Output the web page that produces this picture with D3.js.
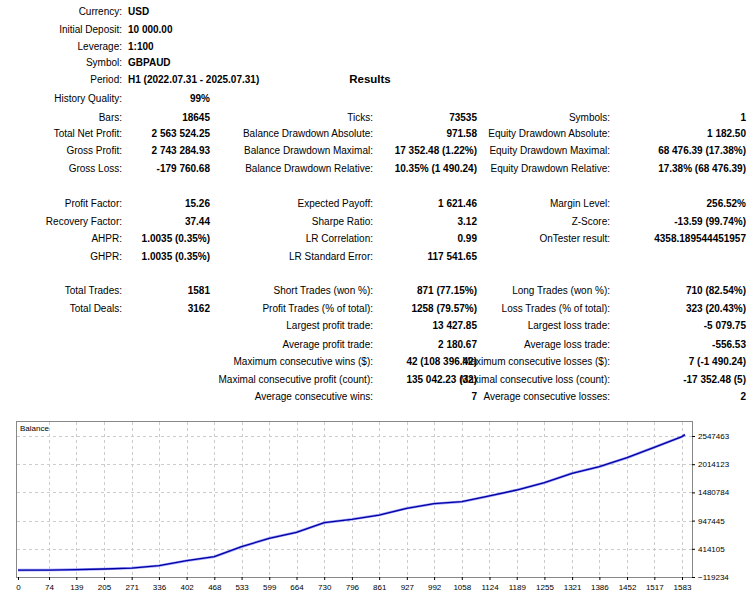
<!DOCTYPE html>
<html lang="en">
<head>
<meta charset="UTF-8">
<title>Strategy Tester Report</title>
<script src="https://d3js.org/d3.v7.min.js"></script>
<style>
  body { margin: 0; background: #fff; }
  text { font-family: "Liberation Sans", Arial, sans-serif; font-size: 10px; fill: #000; }
  .b { font-weight: bold; }
</style>
</head>
<body>
<svg width="756" height="600"></svg>
<script>
// header rows: label, value
var headLabels = ["Currency:", "Initial Deposit:", "Leverage:", "Symbol:", "Period:"];
var headValues = ["USD", "10 000.00", "1:100", "GBPAUD", "H1 (2022.07.31 - 2025.07.31)"];
var headY = [11, 29, 46, 62, 79];

// table rows: [label1, value1, label2, value2, label3, value3]
var rowY = [98, 117, 133, 150, 168, 203, 221, 238, 256, 290, 308, 325, 344, 361, 379, 396];
var rows = [
  ["History Quality:", "99%", "", "", "", ""],
  ["Bars:", "18645", "Ticks:", "73535", "Symbols:", "1"],
  ["Total Net Profit:", "2 563 524.25", "Balance Drawdown Absolute:", "971.58", "Equity Drawdown Absolute:", "1 182.50"],
  ["Gross Profit:", "2 743 284.93", "Balance Drawdown Maximal:", "17 352.48 (1.22%)", "Equity Drawdown Maximal:", "68 476.39 (17.38%)"],
  ["Gross Loss:", "-179 760.68", "Balance Drawdown Relative:", "10.35% (1 490.24)", "Equity Drawdown Relative:", "17.38% (68 476.39)"],
  ["Profit Factor:", "15.26", "Expected Payoff:", "1 621.46", "Margin Level:", "256.52%"],
  ["Recovery Factor:", "37.44", "Sharpe Ratio:", "3.12", "Z-Score:", "-13.59 (99.74%)"],
  ["AHPR:", "1.0035 (0.35%)", "LR Correlation:", "0.99", "OnTester result:", "4358.189544451957"],
  ["GHPR:", "1.0035 (0.35%)", "LR Standard Error:", "117 541.65", "", ""],
  ["Total Trades:", "1581", "Short Trades (won %):", "871 (77.15%)", "Long Trades (won %):", "710 (82.54%)"],
  ["Total Deals:", "3162", "Profit Trades (% of total):", "1258 (79.57%)", "Loss Trades (% of total):", "323 (20.43%)"],
  ["", "", "Largest profit trade:", "13 427.85", "Largest loss trade:", "-5 079.75"],
  ["", "", "Average profit trade:", "2 180.67", "Average loss trade:", "-556.53"],
  ["", "", "Maximum consecutive wins ($):", "42 (108 396.42)", "Maximum consecutive losses ($):", "7 (-1 490.24)"],
  ["", "", "Maximal consecutive profit (count):", "135 042.23 (32)", "Maximal consecutive loss (count):", "-17 352.48 (5)"],
  ["", "", "Average consecutive wins:", "7", "Average consecutive losses:", "2"]
];

// balance curve: trade number, balance
var trades = [0, 74, 139, 205, 271, 336, 402, 468, 533, 599, 664, 730, 796, 861, 927, 992, 1058, 1124, 1189, 1255, 1321, 1386, 1452, 1517, 1583, 1590];
var balance = [10000, 12000, 20000, 32000, 50000, 94500, 189000, 265000, 454000, 613000, 726000, 908000, 972000, 1053000, 1180000, 1267000, 1305000, 1413000, 1526000, 1664000, 1842000, 1967000, 2137000, 2334000, 2535000, 2573534];
var xTicks = [0, 74, 139, 205, 271, 336, 402, 468, 533, 599, 664, 730, 796, 861, 927, 992, 1058, 1124, 1189, 1255, 1321, 1386, 1452, 1517, 1583];
var yTicks = [-119234, 414105, 947445, 1480784, 2014123, 2547463];

var svg = d3.select("svg");

headLabels.forEach(function(l, i) {
  svg.append("text").attr("x", 122).attr("y", headY[i] + 4).attr("text-anchor", "end").text(l);
  svg.append("text").attr("class", "b").attr("x", 128).attr("y", headY[i] + 4).text(headValues[i]);
});
svg.append("text").attr("class", "b").attr("x", 370).attr("y", 83)
  .attr("text-anchor", "middle").style("font-size", "11.5px").text("Results");

var colX = [122, 210, 373, 477, 610, 746];
rows.forEach(function(r, i) {
  r.forEach(function(t, j) {
    if (!t) return;
    svg.append("text").attr("class", j % 2 ? "b" : null)
      .attr("x", colX[j]).attr("y", rowY[i] + 4)
      .attr("text-anchor", "end").text(t);
  });
});

// chart
var x = d3.scaleLinear().domain([0, 1583]).range([18, 682]);
var y = d3.scaleLinear().domain([-119234, 2547463]).range([577, 436]);

var g = svg.append("g");
g.append("rect").attr("x", 16.5).attr("y", 421.5).attr("width", 676).attr("height", 156)
  .attr("fill", "#fff").attr("stroke", "#888");

g.selectAll(".vg").data(xTicks.slice(1)).enter().append("line")
  .attr("x1", function(d) { return Math.round(x(d)) + 0.5; })
  .attr("x2", function(d) { return Math.round(x(d)) + 0.5; })
  .attr("y1", 422).attr("y2", 577)
  .attr("stroke", "#ccc").attr("stroke-dasharray", "3,3");
g.selectAll(".hg").data(yTicks.slice(1)).enter().append("line")
  .attr("y1", function(d) { return Math.round(y(d)) + 0.5; })
  .attr("y2", function(d) { return Math.round(y(d)) + 0.5; })
  .attr("x1", 17).attr("x2", 692)
  .attr("stroke", "#ccc").attr("stroke-dasharray", "3,3");

var pts = trades.map(function(t, i) { return [t, balance[i]]; });
var line = d3.line().x(function(d) { return x(d[0]); }).y(function(d) { return y(d[1]); });
g.append("path").datum(pts).attr("d", line).attr("fill", "none")
  .attr("stroke", "#9999ff").attr("stroke-width", 2.6);
g.append("path").datum(pts).attr("d", line).attr("fill", "none")
  .attr("stroke", "#0000a0").attr("stroke-width", 1.3);

g.append("text").attr("x", 20).attr("y", 431).style("font-size", "8px").text("Balance");

// axes
var xa = svg.append("g").attr("transform", "translate(0,577)")
  .call(d3.axisBottom(x).tickValues(xTicks).tickFormat(d3.format("d")).tickSize(3).tickSizeOuter(0));
xa.select(".domain").remove();
xa.selectAll("text").style("font-size", "8px").attr("dy", "0.9em");
var ya = svg.append("g").attr("transform", "translate(692,0)")
  .call(d3.axisRight(y).tickValues(yTicks).tickFormat(d3.format("d")).tickSize(3).tickSizeOuter(0));
ya.select(".domain").remove();
ya.selectAll("text").style("font-size", "8px");
</script>
</body>
</html>
